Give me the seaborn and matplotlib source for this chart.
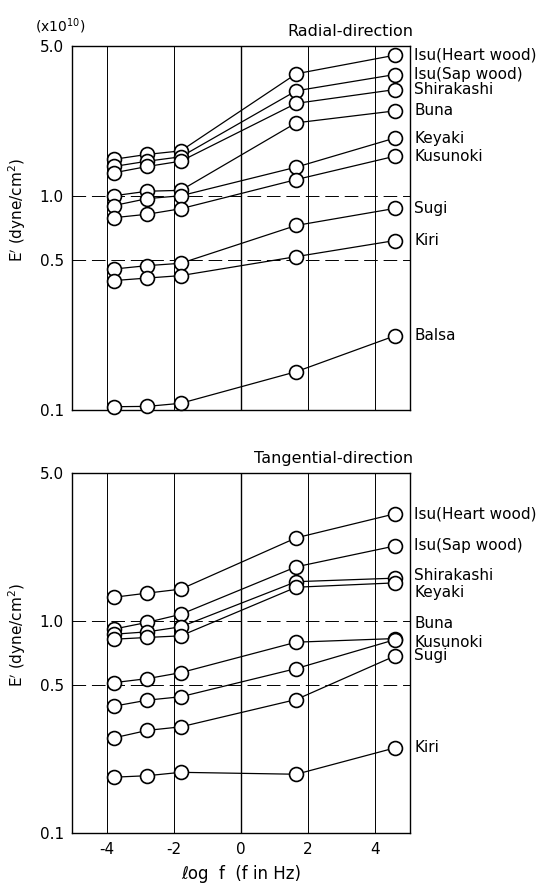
import pandas as pd
import matplotlib
matplotlib.use('Agg')
import matplotlib.pyplot as plt
import seaborn as sns
from matplotlib.ticker import NullLocator

# log f (f in Hz) of the measuring points
log_f = [-3.8, -2.8, -1.8, 1.65, 4.6]

# Radial-direction, E' (x10^10 dyne/cm^2)
radial_species = ['Isu(Heart wood)', 'Isu(Sap wood)', 'Shirakashi', 'Buna',
                  'Keyaki', 'Kusunoki', 'Sugi', 'Kiri', 'Balsa']
radial_isu_heart = [1.48, 1.56, 1.62, 3.71, 4.53]
radial_isu_sap = [1.37, 1.45, 1.52, 3.09, 3.68]
radial_shirakashi = [1.28, 1.37, 1.45, 2.70, 3.13]
radial_buna = [1.00, 1.05, 1.06, 2.19, 2.49]
radial_keyaki = [0.90, 0.97, 1.00, 1.36, 1.86]
radial_kusunoki = [0.79, 0.82, 0.87, 1.19, 1.53]
radial_sugi = [0.455, 0.472, 0.484, 0.727, 0.873]
radial_kiri = [0.402, 0.413, 0.424, 0.52, 0.618]
radial_balsa = [0.1036, 0.104, 0.1075, 0.151, 0.222]

# Tangential-direction
tang_species = ['Isu(Heart wood)', 'Isu(Sap wood)', 'Shirakashi', 'Keyaki',
                'Buna', 'Kusunoki', 'Sugi', 'Kiri']
tang_isu_heart = [1.30, 1.36, 1.42, 2.48, 3.22]
tang_isu_sap = [0.92, 0.99, 1.08, 1.81, 2.27]
tang_shirakashi = [0.87, 0.893, 0.943, 1.54, 1.60]
tang_keyaki = [0.824, 0.84, 0.855, 1.45, 1.52]
tang_buna = [0.514, 0.537, 0.573, 0.798, 0.83]
tang_kusunoki = [0.398, 0.425, 0.441, 0.599, 0.82]
tang_sugi = [0.282, 0.306, 0.318, 0.428, 0.687]
tang_kiri = [0.184, 0.187, 0.194, 0.190, 0.253]

y_ticks = [0.1, 0.5, 1.0, 5.0]
y_tick_labels = ['0.1', '0.5', '1.0', '5.0']
x_ticks = [-4, -2, 0, 2, 4]

# label nudges (points) for the species names on the right
tang_label_dy = [0, 0, 2, -7, 11, -2, 0, 0]


def to_long(species, values):
    rows = []
    for name, vals in zip(species, values):
        for x, v in zip(log_f, vals):
            rows.append({'species': name, 'log_f': x, 'E': v})
    return pd.DataFrame(rows)


def draw_panel(ax, df, species, title, label_dy):
    # grid: vertical lines and broken horizontal lines
    for xv in x_ticks:
        ax.axvline(xv, color='black', lw=1.0 if xv == 0 else 0.7, zorder=0)
    for yv in [0.5, 1.0]:
        ax.axhline(yv, color='black', lw=0.7, ls=(0, (14, 6)), zorder=0)

    sns.lineplot(data=df, x='log_f', y='E', units='species', estimator=None,
                 color='black', lw=0.9, ax=ax, sort=False, legend=False, zorder=2)
    sns.scatterplot(data=df, x='log_f', y='E', marker='o', s=100,
                    facecolor='white', edgecolor='black', linewidth=1.2,
                    ax=ax, legend=False, zorder=3, clip_on=False)

    ax.set_yscale('log')
    ax.set_xlim(-5.05, 5.05)
    ax.set_ylim(0.1, 5.0)
    ax.set_yticks(y_ticks)
    ax.set_yticklabels(y_tick_labels)
    ax.yaxis.set_minor_locator(NullLocator())
    ax.set_xticks(x_ticks)
    ax.tick_params(length=0, labelsize=11, pad=6, colors='black')
    for sp in ax.spines.values():
        sp.set_visible(True)
        sp.set_color('black')
        sp.set_linewidth(1.0)

    ax.set_ylabel("E$'$ (dyne/cm$^2$)", fontsize=11, color='black')
    ax.yaxis.set_label_coords(-0.13, 0.55)
    ax.text(1.01, 1.02, title, transform=ax.transAxes, ha='right',
            va='bottom', fontsize=11.5, color='black')

    # species names next to the last point
    for name, dy in zip(species, label_dy):
        last = df[df['species'] == name].iloc[-1]
        ax.annotate(name, (last['log_f'], last['E']), xytext=(14, dy),
                    textcoords='offset points', ha='left', va='center',
                    fontsize=11, color='black', annotation_clip=False)


def main():
    sns.set_style('white')
    plt.rcParams['font.family'] = ['DejaVu Sans']
    plt.rcParams['axes.unicode_minus'] = False
    plt.rcParams['text.color'] = 'black'
    plt.rcParams['axes.labelcolor'] = 'black'

    fig = plt.figure(figsize=(5.6, 8.9), dpi=100)
    ax1 = fig.add_axes([0.1286, 0.5393, 0.6036, 0.409])
    ax2 = fig.add_axes([0.1286, 0.0637, 0.6036, 0.4045])

    radial = to_long(radial_species, [radial_isu_heart, radial_isu_sap,
                                      radial_shirakashi, radial_buna,
                                      radial_keyaki, radial_kusunoki,
                                      radial_sugi, radial_kiri, radial_balsa])
    tang = to_long(tang_species, [tang_isu_heart, tang_isu_sap,
                                  tang_shirakashi, tang_keyaki, tang_buna,
                                  tang_kusunoki, tang_sugi, tang_kiri])

    draw_panel(ax1, radial, radial_species, 'Radial-direction',
               [0] * len(radial_species))
    draw_panel(ax2, tang, tang_species, 'Tangential-direction', tang_label_dy)

    ax1.set_xticklabels([])
    ax1.set_xlabel('')
    ax2.set_xlabel('ℓog  f  (f in Hz)', fontsize=12, labelpad=6)

    fig.text(0.107, 0.971, '(x10$^{10}$)', ha='center', va='center',
             fontsize=10)

    fig.savefig('out.png', dpi=100)
    plt.close(fig)


if __name__ == "__main__":
    main()
